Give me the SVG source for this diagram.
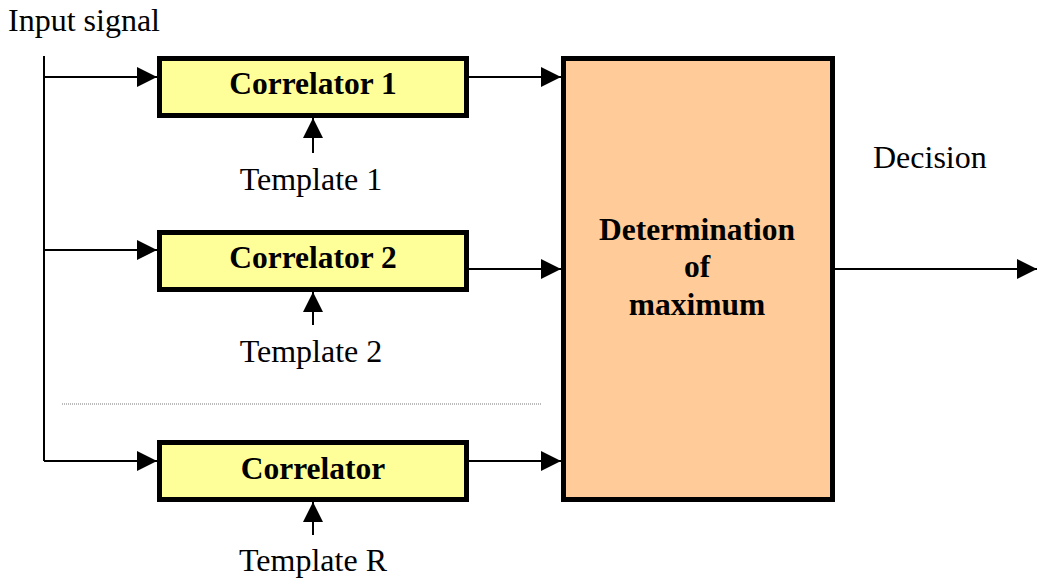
<svg xmlns="http://www.w3.org/2000/svg" width="1037" height="583" viewBox="0 0 1037 583">
<style>
.corr{fill:#ffff99;stroke:#000;stroke-width:5}
.maxb{fill:#ffcc99;stroke:#000;stroke-width:5}
.lbl{font-family:"Liberation Serif","Times New Roman",serif;font-size:32px;fill:#000}
.bold{font-weight:bold;text-anchor:middle;font-size:31.5px}
.mid{text-anchor:middle}
.ln{stroke:#000;stroke-width:2;fill:none}
.dot{stroke:#777;stroke-width:1;stroke-dasharray:1 1;fill:none}
</style>
<defs>
<marker id="ah" markerWidth="20" markerHeight="20" refX="20" refY="10" orient="auto" markerUnits="userSpaceOnUse">
<path d="M0,0 L20,10 L0,20 Z" fill="#000"/>
</marker>
</defs>
<rect width="1037" height="583" fill="#fff"/>
<text class="lbl" x="8" y="31">Input signal</text>
<text class="lbl" x="873" y="168">Decision</text>
<g id="connectors">
<path class="ln" d="M44,56 V461"/>
<path class="ln" d="M44,77 H157" marker-end="url(#ah)"/>
<path class="ln" d="M44,250 H157" marker-end="url(#ah)"/>
<path class="ln" d="M44,461 H157" marker-end="url(#ah)"/>
<path class="ln" d="M469,77 H561" marker-end="url(#ah)"/>
<path class="ln" d="M469,269 H561" marker-end="url(#ah)"/>
<path class="ln" d="M469,461 H561" marker-end="url(#ah)"/>
<path class="ln" d="M313,153 V118" marker-end="url(#ah)"/>
<path class="ln" d="M313,325 V292" marker-end="url(#ah)"/>
<path class="ln" d="M313,535 V502" marker-end="url(#ah)"/>
<path class="ln" d="M835,269 H1037" marker-end="url(#ah)"/>
<path class="dot" d="M62,404 H542"/>
</g>
<g id="correlator1">
<rect class="corr" x="159.5" y="58.5" width="307" height="57"/>
<text class="lbl bold" x="313" y="94">Correlator 1</text>
</g>
<g id="template1"><text class="lbl mid" x="311" y="190">Template 1</text></g>
<g id="correlator2">
<rect class="corr" x="159.5" y="232.5" width="307" height="57"/>
<text class="lbl bold" x="313" y="268">Correlator 2</text>
</g>
<g id="template2"><text class="lbl mid" x="311" y="362">Template 2</text></g>
<g id="correlatorR">
<rect class="corr" x="159.5" y="442.5" width="307" height="57"/>
<text class="lbl bold" x="313" y="479">Correlator</text>
</g>
<g id="templateR"><text class="lbl mid" x="313" y="571">Template R</text></g>
<g id="maximum">
<rect class="maxb" x="563.5" y="58.5" width="269" height="441"/>
<text class="lbl bold" x="697" y="240">Determination</text>
<text class="lbl bold" x="697" y="277">of</text>
<text class="lbl bold" x="697" y="315">maximum</text>
</g>
</svg>
